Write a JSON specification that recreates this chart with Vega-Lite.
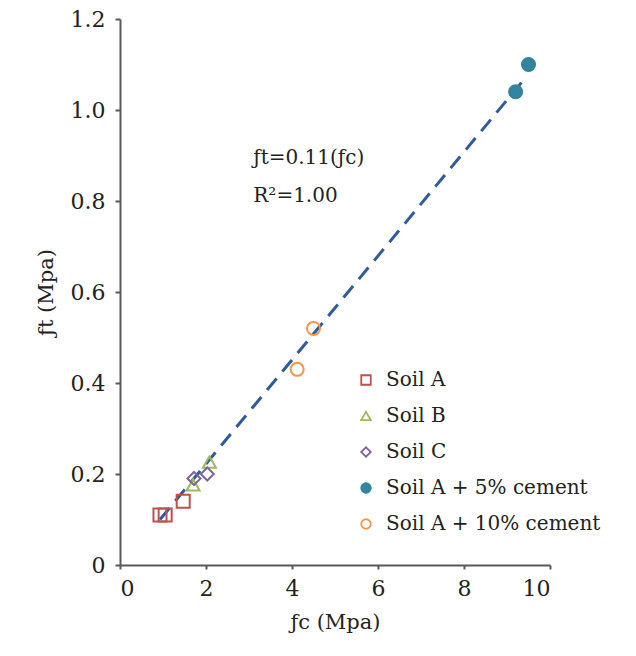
{
  "$schema": "https://vega.github.io/schema/vega-lite/v6.json",
  "width": 430,
  "height": 546,
  "autosize": "none",
  "padding": {"left": 120, "top": 19, "right": 86, "bottom": 91},
  "background": "white",
  "config": {
    "view": {"stroke": null},
    "font": "DejaVu Serif",
    "axis": {"grid": false, "domainColor": "#595959", "domainWidth": 2, "tickColor": "#595959", "tickWidth": 2, "labelFont": "DejaVu Serif", "titleFont": "DejaVu Serif", "labelColor": "#222", "titleColor": "#222", "labelFontSize": 22, "titleFontSize": 21, "titleFontWeight": "normal"}
  },
  "datasets": {
    "pts": [
      {"series": "Soil A", "fc": 0.93, "ft": 0.11},
      {"series": "Soil A", "fc": 1.05, "ft": 0.11},
      {"series": "Soil A", "fc": 1.47, "ft": 0.14},
      {"series": "Soil B", "fc": 1.7, "ft": 0.176},
      {"series": "Soil B", "fc": 2.08, "ft": 0.226},
      {"series": "Soil C", "fc": 1.72, "ft": 0.19},
      {"series": "Soil C", "fc": 2.03, "ft": 0.2},
      {"series": "Soil A + 5% cement", "fc": 9.2, "ft": 1.04},
      {"series": "Soil A + 5% cement", "fc": 9.5, "ft": 1.1},
      {"series": "Soil A + 10% cement", "fc": 4.12, "ft": 0.43},
      {"series": "Soil A + 10% cement", "fc": 4.5, "ft": 0.52}
    ],
    "fit": [
      {"fc": 0.93, "ft": 0.1},
      {"fc": 9.42, "ft": 1.07}
    ],
    "notes": [
      {"fc": 3.1, "ft": 0.895, "label": "ƒt=0.11(ƒc)"},
      {"fc": 3.1, "ft": 0.81, "label": "R²=1.00"}
    ]
  },
  "layer": [
    {
      "data": {"name": "fit"},
      "mark": {"type": "line", "color": "#2E5C9A", "strokeWidth": 3, "strokeDash": [15, 9]},
      "encoding": {
        "x": {"field": "fc", "type": "quantitative", "scale": {"domain": [0, 10], "nice": false}, "axis": {"values": [0, 2, 4, 6, 8, 10], "title": "ƒc (Mpa)", "tickSize": 4, "labelPadding": 9, "titlePadding": 12}},
        "y": {"field": "ft", "type": "quantitative", "scale": {"domain": [0, 1.2], "nice": false}, "axis": {"values": [0, 0.2, 0.4, 0.6, 0.8, 1.0, 1.2], "labelExpr": "datum.value == 0 ? '0' : format(datum.value, '.1f')", "title": "ƒt (Mpa)", "tickSize": 5, "labelPadding": 10, "titlePadding": 14}}
      }
    },
    {
      "data": {"name": "pts"},
      "mark": {"type": "point", "size": 170, "strokeWidth": 2, "opacity": 1},
      "encoding": {
        "x": {"field": "fc", "type": "quantitative"},
        "y": {"field": "ft", "type": "quantitative"},
        "shape": {"field": "series", "type": "nominal", "scale": {"domain": ["Soil A", "Soil B", "Soil C", "Soil A + 5% cement", "Soil A + 10% cement"], "range": ["square", "triangle-up", "diamond", "circle", "circle"]}, "legend": {"title": null}},
        "color": {"field": "series", "type": "nominal", "scale": {"domain": ["Soil A", "Soil B", "Soil C", "Soil A + 5% cement", "Soil A + 10% cement"], "range": ["#C0504D", "#9BBB59", "#8064A2", "#31859C", "#F79646"]}, "legend": {"title": null}},
        "fill": {"field": "series", "type": "nominal", "scale": {"domain": ["Soil A", "Soil B", "Soil C", "Soil A + 5% cement", "Soil A + 10% cement"], "range": ["transparent", "transparent", "transparent", "#31859C", "transparent"]}, "legend": {"title": null, "orient": "none", "legendX": 236, "legendY": 351, "labelFont": "DejaVu Serif", "labelFontSize": 20, "labelColor": "#222", "symbolSize": 90, "symbolStrokeWidth": 1.8, "rowPadding": 16, "labelOffset": 10, "labelLimit": 400}}
      }
    },
    {
      "data": {"name": "notes"},
      "mark": {"type": "text", "fontSize": 20, "fontStyle": "normal", "font": "DejaVu Serif", "color": "#222", "align": "left"},
      "encoding": {
        "x": {"field": "fc", "type": "quantitative"},
        "y": {"field": "ft", "type": "quantitative"},
        "text": {"field": "label"}
      }
    }
  ]
}
